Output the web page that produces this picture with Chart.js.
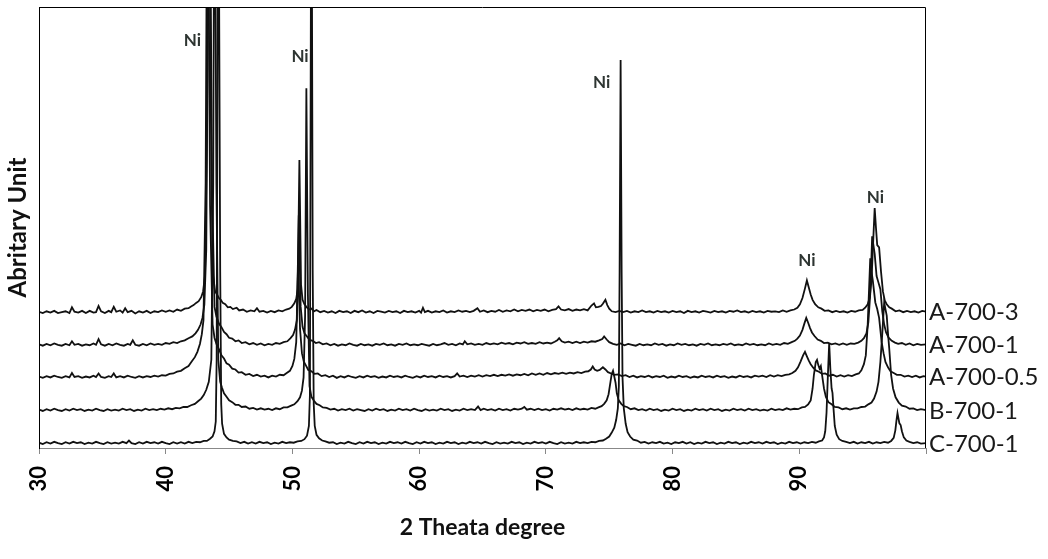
<!DOCTYPE html>
<html>
<head>
<meta charset="utf-8">
<script src="https://cdn.jsdelivr.net/npm/chart.js@4.4.1/dist/chart.umd.min.js"></script>
<style>
html,body{margin:0;padding:0;background:#fff;}
#wrap{width:1048px;height:559px;position:relative;}
</style>
</head>
<body>
<div id="wrap"><canvas id="c" width="1048" height="559"></canvas></div>
<script>
// Series names (top to bottom)
const seriesNames = ['A-700-3', 'A-700-1', 'A-700-0.5', 'B-700-1', 'C-700-1'];

// x tick values (2 theta, degree)
const xTicks = [30, 40, 50, 60, 70, 80, 90, 100];

// Peak annotations [2theta, intensity]
const niLabels = [[42.1, 92.5], [50.6, 88.7], [74.4, 82.8], [90.6, 42.6], [96.0, 56.9]];

// Each series: [2theta, arbitrary intensity (offset)]
const a7003 = [[30,30.9],[30.3,30.6],[30.6,31.0],[30.9,30.7],[31.2,31.1],[31.5,30.6],[31.8,30.8],[32.1,31.0],[32.4,30.6],[32.6,31.9],[32.8,30.9],[33.1,30.7],[33.4,31.1],[33.7,30.6],[34.0,31.1],[34.3,30.7],[34.5,30.8],[34.7,32.2],[34.9,31.0],[35.2,30.6],[35.5,31.1],[35.7,30.8],[35.9,32.0],[36.1,30.9],[36.4,31.2],[36.6,30.7],[36.8,31.7],[37.0,30.8],[37.3,31.1],[37.6,30.5],[37.9,31.0],[38.2,30.7],[38.5,31.1],[38.8,30.6],[39.1,31.0],[39.4,30.8],[39.7,31.2],[40.0,30.9],[40.3,31.2],[40.6,30.9],[40.9,31.4],[41.2,31.1],[41.5,31.6],[41.8,31.7],[42.0,32.1],[42.2,32.4],[42.4,32.9],[42.6,33.3],[42.8,34.2],[42.95,35.5],[43.1,39],[43.25,70],[43.4,150],[43.55,80],[43.7,40],[43.9,35.5],[44.05,34.8],[44.2,34.0],[44.35,33.6],[44.5,32.9],[44.7,32.6],[44.9,31.9],[45.1,32.0],[45.3,31.5],[45.6,31.8],[45.8,31.2],[46.1,31.4],[46.4,30.9],[46.7,31.2],[47.0,31.0],[47.2,31.7],[47.4,30.9],[47.7,31.1],[48.0,30.7],[48.3,31.1],[48.6,30.8],[48.9,31.2],[49.2,31.0],[49.5,31.4],[49.75,31.6],[49.95,32.0],[50.15,32.8],[50.3,33.8],[50.42,36],[50.55,65.3],[50.68,37],[50.8,33.6],[50.95,32.6],[51.1,32.0],[51.3,31.4],[51.5,31.6],[51.7,31.0],[51.9,31.3],[52.2,30.8],[52.5,31.1],[52.8,30.7],[53.1,31.0],[53.4,30.6],[53.7,31.1],[54.0,30.8],[54.3,31.0],[54.6,30.6],[54.9,31.1],[55.2,30.8],[55.5,31.2],[55.8,30.7],[56.1,31.0],[56.4,30.6],[56.7,31.1],[57.0,30.9],[57.3,30.7],[57.6,31.1],[57.9,30.8],[58.2,31.0],[58.5,30.6],[58.8,31.1],[59.1,30.8],[59.4,31.0],[59.7,30.7],[60.0,31.1],[60.15,30.7],[60.3,31.8],[60.45,30.8],[60.7,31.1],[61.0,30.7],[61.3,31.0],[61.6,30.8],[61.9,31.2],[62.2,30.7],[62.5,31.0],[62.8,30.8],[63.1,31.2],[63.4,30.9],[63.7,31.1],[64.0,30.8],[64.3,31.1],[64.6,31.7],[64.8,30.9],[65.1,31.2],[65.4,30.8],[65.7,31.1],[66.0,30.9],[66.3,31.3],[66.6,30.9],[66.9,31.2],[67.2,31.0],[67.5,31.4],[67.8,31.0],[68.1,31.3],[68.4,31.1],[68.7,31.4],[69.0,31.0],[69.3,31.3],[69.6,31.1],[69.9,31.4],[70.2,31.0],[70.5,31.3],[70.8,31.5],[71.0,32.1],[71.2,31.4],[71.5,31.2],[71.8,31.5],[72.1,31.1],[72.4,31.4],[72.7,31.2],[73.0,31.5],[73.3,31.2],[73.6,32.3],[73.8,32.8],[73.95,31.9],[74.15,32.0],[74.35,32.2],[74.5,32.7],[74.7,33.6],[74.85,32.4],[75.0,31.6],[75.2,31.0],[75.5,30.8],[75.8,31.1],[76.1,30.8],[76.4,31.1],[76.7,30.7],[77.0,31.0],[77.3,30.8],[77.6,31.2],[77.9,30.8],[78.2,31.0],[78.5,30.7],[78.8,31.1],[79.1,30.8],[79.4,31.0],[79.7,30.7],[80.0,31.1],[80.3,30.8],[80.6,31.0],[80.9,30.6],[81.2,31.1],[81.5,30.8],[81.8,31.0],[82.1,30.7],[82.4,31.1],[82.7,30.9],[83.0,30.7],[83.3,31.1],[83.6,30.8],[83.9,31.0],[84.2,30.7],[84.5,31.1],[84.8,30.9],[85.1,31.2],[85.4,30.8],[85.7,31.0],[86.0,30.7],[86.3,31.1],[86.6,30.8],[86.9,31.0],[87.2,30.7],[87.5,31.1],[87.8,30.9],[88.1,31.0],[88.4,30.8],[88.7,31.2],[89.0,30.9],[89.3,31.2],[89.6,31.4],[89.85,31.8],[90.05,32.6],[90.25,34.0],[90.45,36.2],[90.6,38.0],[90.75,36.4],[90.9,34.8],[91.05,33.6],[91.25,32.6],[91.5,31.9],[91.75,31.6],[92.0,31.1],[92.3,31.2],[92.6,30.8],[92.9,31.1],[93.2,30.8],[93.5,31.0],[93.8,30.7],[94.1,31.1],[94.4,30.9],[94.7,31.2],[95.0,31.3],[95.2,31.8],[95.4,32.6],[95.55,34],[95.7,38],[95.85,48],[95.95,54.4],[96.05,50],[96.15,46],[96.3,45.5],[96.45,40],[96.6,35.5],[96.75,33.4],[96.9,32.6],[97.1,31.9],[97.3,31.6],[97.6,31.0],[97.9,31.2],[98.2,30.8],[98.5,31.1],[98.8,30.8],[99.1,31.0],[99.4,30.7],[99.7,31.1],[100,30.9]];

const a7001 = [[30,23.5],[30.3,23.2],[30.6,23.6],[30.9,23.3],[31.2,23.7],[31.5,23.4],[31.8,23.2],[32.1,23.6],[32.4,23.3],[32.6,24.2],[32.8,23.4],[33.1,23.6],[33.4,23.2],[33.7,23.5],[34.0,23.3],[34.3,23.7],[34.5,23.4],[34.7,24.7],[34.9,23.5],[35.2,23.2],[35.5,23.6],[35.8,23.3],[36.1,23.7],[36.4,23.4],[36.7,23.2],[37.0,23.6],[37.2,23.4],[37.4,24.4],[37.6,23.4],[37.9,23.2],[38.2,23.6],[38.5,23.3],[38.8,23.7],[39.1,23.4],[39.4,23.6],[39.7,23.4],[40.0,23.8],[40.3,23.6],[40.6,24.0],[40.9,23.8],[41.2,24.2],[41.5,24.4],[41.8,24.9],[42.1,25.3],[42.35,26.0],[42.55,26.8],[42.75,28.0],[42.9,29.5],[43.05,32.5],[43.2,45],[43.45,150],[43.65,60],[43.85,32],[44.0,29.8],[44.2,28.2],[44.4,27.4],[44.6,26.3],[44.8,25.8],[45.0,25.0],[45.25,24.8],[45.5,24.2],[45.75,24.4],[46.0,23.8],[46.3,24.0],[46.6,23.5],[46.9,23.8],[47.2,23.4],[47.5,23.7],[47.8,23.3],[48.1,23.6],[48.4,23.4],[48.7,23.8],[49.0,23.6],[49.3,24.0],[49.6,24.2],[49.85,24.9],[50.05,25.6],[50.2,26.8],[50.35,29.0],[50.5,52.8],[50.65,32],[50.8,27.5],[50.95,26.0],[51.15,25.3],[51.35,24.5],[51.6,24.3],[51.85,23.8],[52.1,24.0],[52.4,23.5],[52.7,23.7],[53.0,23.3],[53.3,23.6],[53.6,23.2],[53.9,23.5],[54.2,23.3],[54.5,23.7],[54.8,23.4],[55.1,23.2],[55.4,23.6],[55.7,23.3],[56.0,23.5],[56.3,23.2],[56.6,23.6],[56.9,23.4],[57.2,23.7],[57.5,23.3],[57.8,23.5],[58.1,23.2],[58.4,23.6],[58.7,23.4],[59.0,23.7],[59.3,23.3],[59.6,23.5],[59.9,23.3],[60.2,23.6],[60.5,23.4],[60.8,23.2],[61.1,23.6],[61.4,23.3],[61.7,23.5],[62.0,23.8],[62.3,23.4],[62.6,23.6],[62.9,23.3],[63.2,23.7],[63.45,23.5],[63.6,24.2],[63.8,23.5],[64.1,23.7],[64.4,23.4],[64.7,23.6],[65.0,23.4],[65.3,23.8],[65.6,23.5],[65.9,23.7],[66.2,23.5],[66.5,23.9],[66.8,23.6],[67.1,23.8],[67.4,23.5],[67.7,23.9],[68.0,23.7],[68.3,24.0],[68.6,23.6],[68.9,23.8],[69.2,23.6],[69.5,24.0],[69.8,23.7],[70.1,23.9],[70.4,23.7],[70.7,24.1],[70.9,24.4],[71.05,24.9],[71.25,24.2],[71.5,23.9],[71.8,24.1],[72.1,23.8],[72.4,24.1],[72.7,23.8],[73.0,24.1],[73.3,23.9],[73.6,24.2],[73.9,24.1],[74.2,24.4],[74.45,24.7],[74.6,25.3],[74.8,24.6],[75.0,24.0],[75.3,23.6],[75.6,23.4],[75.9,23.7],[76.2,23.3],[76.5,23.6],[76.8,23.4],[77.1,23.2],[77.4,23.6],[77.7,23.3],[78.0,23.5],[78.3,23.3],[78.6,23.7],[78.9,23.4],[79.2,23.6],[79.5,23.2],[79.8,23.5],[80.1,23.3],[80.4,23.7],[80.7,23.4],[81.0,23.6],[81.3,23.3],[81.6,23.5],[81.9,23.2],[82.2,23.6],[82.5,23.4],[82.8,23.7],[83.1,23.3],[83.4,23.5],[83.7,23.3],[84.0,23.6],[84.3,23.4],[84.6,23.7],[84.9,23.3],[85.2,23.5],[85.5,23.3],[85.8,23.7],[86.1,23.4],[86.4,23.6],[86.7,23.3],[87.0,23.5],[87.3,23.3],[87.6,23.7],[87.9,23.4],[88.2,23.6],[88.5,23.4],[88.8,23.8],[89.1,23.6],[89.4,24.0],[89.65,24.3],[89.85,24.8],[90.05,25.5],[90.25,26.8],[90.4,28.2],[90.55,29.5],[90.7,28.4],[90.85,27.2],[91.0,26.2],[91.2,25.4],[91.45,24.6],[91.7,24.3],[91.95,23.8],[92.25,23.9],[92.55,23.5],[92.85,23.7],[93.15,23.4],[93.45,23.7],[93.75,23.4],[94.05,23.7],[94.35,23.6],[94.65,23.9],[94.9,24.3],[95.1,24.9],[95.3,26.0],[95.45,28.5],[95.6,35],[95.75,48],[95.85,46],[95.95,44],[96.1,39],[96.25,37.5],[96.4,36.0],[96.55,31],[96.7,28.0],[96.85,26.2],[97.05,25.0],[97.3,24.3],[97.55,23.9],[97.8,23.6],[98.1,23.8],[98.4,23.4],[98.7,23.7],[99.0,23.3],[99.3,23.6],[99.6,23.4],[100,23.5]];

const a70005 = [[30,16.2],[30.3,15.9],[30.6,16.3],[30.9,16.0],[31.2,16.4],[31.5,16.1],[31.8,15.9],[32.1,16.3],[32.4,16.0],[32.6,17.0],[32.8,16.1],[33.1,16.3],[33.4,15.9],[33.7,16.2],[34.0,16.0],[34.3,16.4],[34.5,16.1],[34.7,16.9],[34.9,16.1],[35.2,15.9],[35.5,16.3],[35.7,16.1],[35.9,16.9],[36.1,16.0],[36.4,16.3],[36.7,16.0],[37.0,16.4],[37.3,16.1],[37.6,15.9],[37.9,16.3],[38.2,16.0],[38.5,16.3],[38.8,16.1],[39.1,16.4],[39.4,16.2],[39.7,16.5],[40.0,16.4],[40.3,16.8],[40.6,16.9],[40.9,17.3],[41.2,17.5],[41.5,18.1],[41.8,18.6],[42.05,19.6],[42.3,20.6],[42.5,21.8],[42.7,23.6],[42.85,25.8],[42.98,29],[43.15,60],[43.3,150],[43.5,55],[43.7,28],[43.85,25.0],[44.0,23.6],[44.2,22.4],[44.4,21.0],[44.6,20.3],[44.8,19.2],[45.0,18.9],[45.25,18.0],[45.5,17.8],[45.75,17.1],[46.0,17.2],[46.3,16.6],[46.6,16.8],[46.9,16.3],[47.2,16.6],[47.5,16.2],[47.8,16.4],[48.1,16.0],[48.4,16.4],[48.7,16.2],[49.0,16.6],[49.3,16.5],[49.55,17.0],[49.8,17.5],[50.0,18.6],[50.15,20.2],[50.3,24.0],[50.45,42.2],[50.6,27],[50.75,21.5],[50.9,19.6],[51.05,18.8],[51.25,17.7],[51.5,17.4],[51.75,16.8],[52.0,16.9],[52.3,16.3],[52.6,16.5],[52.9,16.1],[53.2,16.4],[53.5,15.9],[53.8,16.3],[54.1,16.0],[54.4,16.4],[54.7,16.1],[55.0,15.9],[55.3,16.3],[55.6,16.0],[55.9,16.4],[56.2,16.1],[56.5,16.3],[56.8,15.9],[57.1,16.2],[57.4,16.0],[57.7,16.4],[58.0,16.1],[58.3,16.3],[58.6,16.0],[58.9,16.4],[59.2,16.1],[59.5,15.9],[59.8,16.3],[60.1,16.0],[60.4,16.4],[60.7,16.1],[61.0,16.3],[61.3,16.0],[61.6,16.4],[61.9,16.1],[62.2,16.3],[62.5,16.0],[62.8,16.3],[63.0,16.9],[63.2,16.2],[63.5,16.4],[63.8,16.1],[64.1,16.4],[64.4,16.2],[64.7,16.5],[65.0,16.2],[65.3,16.5],[65.6,16.3],[65.9,16.6],[66.2,16.3],[66.5,16.6],[66.8,16.4],[67.1,16.7],[67.4,16.4],[67.7,16.7],[68.0,16.5],[68.3,16.8],[68.6,16.5],[68.9,16.9],[69.2,16.6],[69.5,16.9],[69.8,16.6],[70.1,17.0],[70.4,16.7],[70.7,17.0],[71.0,16.8],[71.3,17.1],[71.6,16.8],[71.9,17.1],[72.2,16.9],[72.5,17.2],[72.8,17.0],[73.1,17.3],[73.35,17.4],[73.55,17.8],[73.7,18.5],[73.85,17.8],[74.05,17.5],[74.25,17.7],[74.5,18.3],[74.7,17.8],[74.9,17.2],[75.15,16.9],[75.4,16.6],[75.7,16.7],[76.0,16.3],[76.3,16.5],[76.6,16.1],[76.9,16.4],[77.2,16.0],[77.5,16.3],[77.8,16.1],[78.1,16.4],[78.4,16.0],[78.7,16.3],[79.0,16.1],[79.3,16.4],[79.6,15.9],[79.9,16.2],[80.2,16.0],[80.5,16.4],[80.8,16.1],[81.1,16.3],[81.4,15.9],[81.7,16.2],[82.0,16.0],[82.3,16.4],[82.6,16.1],[82.9,16.3],[83.2,16.0],[83.5,16.4],[83.8,16.1],[84.1,16.3],[84.4,15.9],[84.7,16.2],[85.0,16.0],[85.3,16.4],[85.6,16.1],[85.9,16.3],[86.2,16.0],[86.5,16.4],[86.8,16.2],[87.1,16.4],[87.4,16.1],[87.7,16.5],[88.0,16.2],[88.3,16.5],[88.6,16.3],[88.9,16.6],[89.2,16.7],[89.45,17.0],[89.7,17.5],[89.9,18.3],[90.1,19.6],[90.3,21.0],[90.45,21.8],[90.6,20.8],[90.75,19.8],[90.9,19.0],[91.1,18.2],[91.3,17.6],[91.55,17.3],[91.8,16.8],[92.05,16.9],[92.35,16.4],[92.65,16.6],[92.95,16.2],[93.25,16.5],[93.55,16.2],[93.85,16.5],[94.15,16.3],[94.45,16.7],[94.7,16.9],[94.9,17.6],[95.1,19.0],[95.25,21.0],[95.4,28],[95.6,43],[95.7,40],[95.8,38],[96.0,33],[96.15,31.5],[96.3,29.5],[96.5,24],[96.65,21.5],[96.8,19.5],[97.0,18.3],[97.2,17.4],[97.45,17.0],[97.7,16.6],[98.0,16.6],[98.3,16.2],[98.6,16.4],[98.9,16.1],[99.2,16.4],[99.5,16.0],[99.8,16.3],[100,16.2]];

const b7001 = [[30,8.7],[30.3,8.4],[30.6,8.8],[30.9,8.5],[31.2,8.9],[31.5,8.6],[31.8,8.4],[32.1,8.8],[32.4,8.5],[32.7,8.9],[33.0,8.6],[33.3,8.8],[33.6,8.4],[33.9,8.7],[34.2,8.5],[34.5,8.9],[34.8,8.6],[35.1,8.4],[35.4,8.8],[35.7,8.5],[36.0,8.7],[36.3,8.5],[36.6,8.9],[36.9,8.6],[37.2,8.8],[37.5,8.4],[37.8,8.7],[38.1,8.5],[38.4,8.9],[38.7,8.6],[39.0,8.8],[39.3,8.6],[39.6,8.9],[39.9,8.7],[40.2,9.0],[40.5,8.8],[40.8,9.1],[41.1,9.0],[41.4,9.3],[41.7,9.3],[42.0,9.7],[42.3,10.0],[42.55,10.6],[42.8,11.2],[43.0,12.0],[43.2,13.2],[43.4,15.0],[43.6,20],[43.75,60],[43.85,150],[44.0,60],[44.15,20],[44.3,15.0],[44.45,13.6],[44.6,12.4],[44.8,11.6],[45.0,10.8],[45.25,10.4],[45.5,9.8],[45.75,9.8],[46.0,9.3],[46.3,9.4],[46.6,8.9],[46.9,9.1],[47.2,8.7],[47.5,9.0],[47.8,8.7],[48.1,8.9],[48.4,8.6],[48.7,9.0],[49.0,8.8],[49.3,9.2],[49.6,9.2],[49.9,9.6],[50.15,9.9],[50.4,10.6],[50.6,11.5],[50.75,13.0],[50.88,16],[51.0,30],[51.1,81.6],[51.22,35],[51.35,14],[51.5,11.6],[51.7,10.7],[51.9,10.0],[52.15,9.7],[52.4,9.2],[52.7,9.1],[53.0,8.7],[53.3,8.9],[53.6,8.5],[53.9,8.8],[54.2,8.6],[54.5,8.9],[54.8,8.5],[55.1,8.8],[55.4,8.6],[55.7,8.4],[56.0,8.8],[56.3,8.5],[56.6,8.9],[56.9,8.6],[57.2,8.8],[57.5,8.4],[57.8,8.7],[58.1,8.5],[58.4,8.9],[58.7,8.6],[59.0,8.8],[59.3,8.5],[59.6,8.9],[59.9,8.6],[60.2,8.4],[60.5,8.8],[60.8,8.5],[61.1,8.7],[61.4,8.5],[61.7,8.9],[62.0,8.6],[62.3,8.8],[62.6,8.4],[62.9,8.7],[63.2,8.5],[63.5,8.9],[63.8,8.6],[64.1,8.8],[64.4,8.6],[64.65,9.4],[64.85,8.6],[65.1,8.9],[65.4,8.6],[65.7,8.8],[66.0,8.5],[66.3,8.9],[66.6,8.6],[66.9,8.8],[67.2,8.5],[67.5,8.9],[67.8,8.7],[68.1,8.9],[68.3,9.3],[68.5,8.7],[68.8,8.9],[69.1,8.6],[69.4,8.9],[69.7,8.6],[70.0,8.8],[70.3,8.5],[70.6,8.9],[70.9,8.7],[71.2,9.0],[71.5,8.7],[71.8,8.9],[72.1,8.6],[72.4,9.0],[72.7,8.7],[73.0,8.9],[73.3,8.7],[73.6,9.1],[73.9,8.9],[74.15,9.2],[74.4,9.5],[74.6,10.0],[74.8,10.8],[74.95,12.2],[75.1,15.0],[75.2,16.8],[75.3,17.5],[75.4,16.2],[75.5,14.8],[75.6,12.4],[75.75,10.8],[75.95,10.0],[76.15,9.5],[76.4,9.3],[76.7,8.8],[77.0,9.0],[77.3,8.6],[77.6,8.8],[77.9,8.5],[78.2,8.9],[78.5,8.6],[78.8,8.8],[79.1,8.4],[79.4,8.7],[79.7,8.5],[80.0,8.9],[80.3,8.6],[80.6,8.8],[80.9,8.4],[81.2,8.7],[81.5,8.5],[81.8,8.9],[82.1,8.6],[82.4,8.8],[82.7,8.5],[83.0,8.9],[83.3,8.6],[83.6,8.8],[83.9,8.4],[84.2,8.7],[84.5,8.5],[84.8,8.9],[85.1,8.6],[85.4,8.8],[85.7,8.5],[86.0,8.9],[86.3,8.6],[86.6,8.8],[86.9,8.5],[87.2,8.7],[87.5,8.5],[87.8,8.9],[88.1,8.6],[88.4,8.8],[88.7,8.6],[89.0,9.0],[89.3,8.7],[89.6,8.9],[89.9,8.8],[90.2,9.2],[90.45,9.3],[90.7,9.9],[90.9,10.8],[91.05,13.5],[91.15,16.5],[91.3,19.5],[91.4,20.0],[91.5,18.8],[91.6,18.0],[91.7,18.6],[91.8,16.5],[91.95,13.5],[92.1,11.6],[92.3,10.4],[92.55,9.9],[92.8,9.3],[93.1,9.2],[93.4,8.8],[93.7,9.0],[94.0,8.7],[94.3,9.0],[94.6,9.0],[94.9,9.3],[95.2,9.4],[95.45,9.9],[95.7,10.3],[95.9,11.2],[96.1,12.8],[96.25,15],[96.4,19.5],[96.55,26],[96.7,33],[96.8,31.5],[96.9,30],[97.0,26],[97.1,22.5],[97.25,16.5],[97.4,13.5],[97.6,11.5],[97.85,10.3],[98.1,9.6],[98.4,9.4],[98.7,8.9],[99.0,9.0],[99.3,8.6],[99.6,8.8],[100,8.6]];

const c7001 = [[30,1.2],[30.3,0.9],[30.6,1.3],[30.9,1.0],[31.2,1.4],[31.5,1.1],[31.8,0.9],[32.1,1.3],[32.4,1.0],[32.7,1.4],[33.0,1.1],[33.3,1.3],[33.6,0.9],[33.9,1.2],[34.2,1.0],[34.5,1.4],[34.8,1.1],[35.1,0.9],[35.4,1.3],[35.7,1.0],[36.0,1.2],[36.3,1.0],[36.6,1.4],[36.9,1.1],[37.1,1.7],[37.3,1.1],[37.6,0.9],[37.9,1.3],[38.2,1.0],[38.5,1.4],[38.8,1.1],[39.1,1.3],[39.4,1.0],[39.7,1.4],[40.0,1.1],[40.3,0.9],[40.6,1.3],[40.9,1.0],[41.2,1.3],[41.5,1.0],[41.8,1.4],[42.1,1.1],[42.4,1.4],[42.7,1.3],[43.0,1.6],[43.25,1.6],[43.5,2.1],[43.7,2.6],[43.85,3.8],[43.95,6],[44.02,20],[44.15,150],[44.3,40],[44.38,10],[44.45,5.5],[44.6,3.2],[44.8,2.4],[45.0,1.9],[45.3,1.6],[45.6,1.5],[45.9,1.1],[46.2,1.4],[46.5,1.0],[46.8,1.3],[47.1,1.0],[47.4,1.4],[47.7,1.1],[48.0,1.3],[48.3,0.9],[48.6,1.2],[48.9,1.0],[49.2,1.4],[49.5,1.1],[49.8,1.3],[50.1,1.2],[50.4,1.5],[50.7,1.6],[50.95,2.0],[51.15,2.8],[51.3,5],[51.38,12],[51.42,60],[51.5,150],[51.6,40],[51.68,10],[51.76,5],[51.9,3.0],[52.1,2.2],[52.35,1.7],[52.6,1.5],[52.9,1.2],[53.2,1.3],[53.5,0.9],[53.8,1.2],[54.1,1.0],[54.4,1.4],[54.7,1.1],[55.0,0.9],[55.3,1.3],[55.6,1.0],[55.9,1.4],[56.2,1.1],[56.5,1.3],[56.8,0.9],[57.1,1.2],[57.4,1.0],[57.7,1.4],[58.0,1.1],[58.3,1.3],[58.6,1.0],[58.9,1.4],[59.2,1.1],[59.5,0.9],[59.8,1.3],[60.1,1.0],[60.4,1.4],[60.7,1.1],[61.0,1.3],[61.3,0.9],[61.6,1.2],[61.9,1.0],[62.2,1.4],[62.5,1.1],[62.8,1.3],[63.1,0.9],[63.4,1.2],[63.7,1.0],[64.0,1.4],[64.3,1.1],[64.6,1.3],[64.9,1.0],[65.2,1.4],[65.5,1.1],[65.8,0.9],[66.1,1.3],[66.4,1.0],[66.7,1.2],[67.0,1.0],[67.3,1.4],[67.6,1.1],[67.9,1.3],[68.2,0.9],[68.5,1.2],[68.8,1.0],[69.1,1.4],[69.4,1.1],[69.7,1.3],[70.0,1.0],[70.3,1.4],[70.6,1.1],[70.9,0.9],[71.2,1.3],[71.5,1.0],[71.8,1.2],[72.1,1.0],[72.4,1.4],[72.7,1.1],[73.0,1.3],[73.3,1.1],[73.6,1.4],[73.9,1.3],[74.2,1.6],[74.5,1.7],[74.75,2.1],[75.0,2.6],[75.2,3.5],[75.4,4.6],[75.55,6.4],[75.68,9],[75.76,14],[75.82,40],[75.9,88],[75.98,40],[76.05,16],[76.15,9],[76.3,5.5],[76.45,3.6],[76.65,2.6],[76.9,1.9],[77.2,1.7],[77.5,1.2],[77.8,1.4],[78.1,1.0],[78.4,1.3],[78.7,1.1],[79.0,1.4],[79.3,1.0],[79.6,1.2],[79.9,0.9],[80.2,1.3],[80.5,1.1],[80.8,1.4],[81.1,1.0],[81.4,1.3],[81.7,0.9],[82.0,1.2],[82.3,1.0],[82.6,1.4],[82.9,1.1],[83.2,1.3],[83.5,0.9],[83.8,1.2],[84.1,1.0],[84.4,1.4],[84.7,1.1],[85.0,1.3],[85.3,0.9],[85.6,1.2],[85.9,1.0],[86.2,1.4],[86.5,1.1],[86.8,1.3],[87.1,1.0],[87.4,1.4],[87.7,1.1],[88.0,1.3],[88.3,0.9],[88.6,1.2],[88.9,1.0],[89.2,1.4],[89.5,1.1],[89.8,1.3],[90.1,1.0],[90.4,1.3],[90.7,1.1],[91.0,1.4],[91.3,1.2],[91.55,1.5],[91.8,1.7],[91.95,2.4],[92.05,3.8],[92.15,8],[92.25,16],[92.36,23.8],[92.45,18],[92.55,13.5],[92.62,12.5],[92.7,9],[92.8,5],[92.95,3.0],[93.15,2.0],[93.4,1.6],[93.7,1.4],[94.0,1.1],[94.3,1.4],[94.6,1.0],[94.9,1.3],[95.2,1.1],[95.5,1.4],[95.8,1.0],[96.1,1.3],[96.4,1.1],[96.7,1.4],[97.0,1.2],[97.25,1.6],[97.45,2.3],[97.58,4.0],[97.68,6.5],[97.75,7.9],[97.82,6.8],[97.9,5.6],[98.0,5.2],[98.1,3.8],[98.25,2.4],[98.45,1.7],[98.7,1.4],[99.0,1.1],[99.3,1.3],[99.6,1.0],[100,1.1]];

const seriesData = [a7003, a7001, a70005, b7001, c7001];

const FONT = 'Lato, "Open Sans", "DejaVu Sans", sans-serif';

const frameAndLabels = {
  id: 'frameAndLabels',
  afterDatasetsDraw(chart) {
    const {ctx, chartArea: a, scales: {x, y}} = chart;
    ctx.save();
    ctx.strokeStyle = '#000';
    ctx.lineWidth = 1;
    ctx.beginPath();
    ctx.moveTo(a.left + 0.5, a.bottom);
    ctx.lineTo(a.left + 0.5, a.top + 0.5);
    ctx.lineTo(a.right - 0.5, a.top + 0.5);
    ctx.lineTo(a.right - 0.5, a.bottom);
    ctx.stroke();
    ctx.fillStyle = '#2e3532';
    ctx.font = 'bold 17px ' + FONT;
    ctx.textAlign = 'center';
    ctx.textBaseline = 'middle';
    niLabels.forEach(p => ctx.fillText('Ni', x.getPixelForValue(p[0]), y.getPixelForValue(p[1])));
    ctx.fillStyle = '#1a1a1a';
    ctx.font = '24px ' + FONT;
    ctx.textAlign = 'left';
    seriesNames.forEach((n, i) => {
      const d = seriesData[i];
      const last = d[d.length - 1];
      ctx.fillText(n, a.right + 3, y.getPixelForValue(last[1]) + 1);
    });
    ctx.restore();
  }
};

new Chart(document.getElementById('c'), {
  type: 'line',
  data: {
    datasets: seriesNames.map((n, i) => ({
      label: n,
      data: seriesData[i].map(p => ({x: p[0], y: p[1]})),
      borderColor: '#111',
      borderWidth: 1.8,
      pointRadius: 0,
      tension: 0,
      fill: false,
      clip: 0
    }))
  },
  options: {
    responsive: false,
    animation: false,
    events: [],
    layout: {padding: {top: 7, right: 122, left: 0, bottom: 0}},
    plugins: {legend: {display: false}, tooltip: {enabled: false}, title: {display: false}},
    scales: {
      x: {
        type: 'linear',
        min: 30, max: 100,
        afterBuildTicks(s) { s.ticks = xTicks.map(v => ({value: v})); },
        afterFit(s) { s.height = 111; },
        grid: {display: true, drawOnChartArea: false, drawTicks: true, tickLength: 6, color: '#888', tickWidth: 1},
        border: {display: true, color: '#888', width: 1},
        ticks: {
          minRotation: 90, maxRotation: 90, padding: 12, autoSkip: false,
          color: '#000',
          font: {family: FONT, size: 22, weight: 'bold'},
          callback: v => (v === 100 ? '' : String(v))
        },
        title: {display: true, text: '2 Theata degree', color: '#111',
          font: {family: FONT, size: 23, weight: 'bold'}, padding: {top: 0, bottom: 18}}
      },
      y: {
        min: 0, max: 100,
        afterFit(s) { s.width = 39; },
        grid: {display: false, drawTicks: false},
        border: {display: true, color: '#000', width: 1},
        ticks: {display: false},
        title: {display: true, text: 'Abritary Unit', color: '#111',
          font: {family: FONT, size: 24, weight: 'bold'}, padding: {top: 4, bottom: 0}}
      }
    }
  },
  plugins: [frameAndLabels]
});
</script>
</body>
</html>
